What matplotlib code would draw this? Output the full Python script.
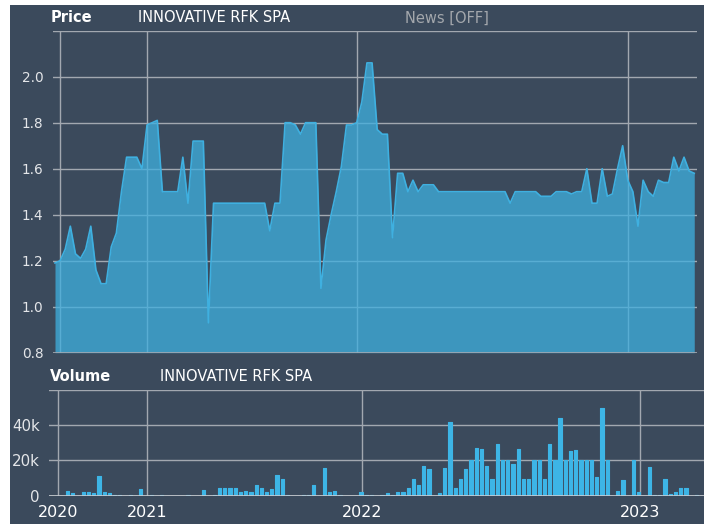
import numpy as np
import matplotlib
matplotlib.use("Agg")
import matplotlib.pyplot as plt
from matplotlib.patches import Rectangle
from matplotlib.ticker import FuncFormatter

# ---------------- data (ordinal axis: one entry per observation) ----------------
price = [
    1.19, 1.20, 1.25, 1.35, 1.23, 1.21, 1.25, 1.35, 1.16, 1.10,
    1.10, 1.26, 1.32, 1.50, 1.65, 1.65, 1.65, 1.60, 1.79, 1.80,
    1.81, 1.50, 1.50, 1.50, 1.50, 1.65, 1.45, 1.72, 1.72, 1.72,
    0.93, 1.45, 1.45, 1.45, 1.45, 1.45, 1.45, 1.45, 1.45, 1.45,
    1.45, 1.45, 1.33, 1.45, 1.45, 1.80, 1.80, 1.79, 1.75, 1.80,
    1.80, 1.80, 1.08, 1.29, 1.40, 1.50, 1.61, 1.79, 1.79, 1.80,
    1.89, 2.06, 2.06, 1.77, 1.75, 1.75, 1.30, 1.58, 1.58, 1.50,
    1.55, 1.50, 1.53, 1.53, 1.53, 1.50, 1.50, 1.50, 1.50, 1.50,
    1.50, 1.50, 1.50, 1.50, 1.50, 1.50, 1.50, 1.50, 1.50, 1.45,
    1.50, 1.50, 1.50, 1.50, 1.50, 1.48, 1.48, 1.48, 1.50, 1.50,
    1.50, 1.49, 1.50, 1.50, 1.60, 1.45, 1.45, 1.60, 1.48, 1.49,
    1.60, 1.70, 1.55, 1.50, 1.35, 1.55, 1.50, 1.48, 1.55, 1.54,
    1.54, 1.65, 1.59, 1.65, 1.59, 1.58,
]

volume = [
    0, 0, 2400, 1500, 0, 2300, 1900, 1700, 11300, 2300,
    1500, 400, 400, 0, 400, 0, 3800, 0, 300, 0,
    200, 0, 0, 0, 0, 300, 0, 0, 3000, 0,
    300, 4500, 4500, 4500, 4500, 2200, 2900, 2200, 5800, 4500,
    2200, 3900, 12000, 9300, 200, 0, 0, 200, 200, 5800,
    0, 15800, 2200, 2900, 400, 0, 0, 0, 2000, 400,
    400, 0, 300, 1500, 300, 2300, 2300, 4500, 9700, 5800,
    16800, 14900, 0, 1500, 15500, 42000, 4500, 9300, 14900, 20000,
    27300, 26700, 16800, 9700, 29500, 20000, 20000, 17800, 26700, 9700,
    9700, 20000, 20000, 9700, 29500, 20000, 44000, 20000, 25400, 25900,
    20000, 20000, 20000, 10500, 49500, 20000, 0, 2900, 8700, 0,
    20000, 2000, 0, 16300, 200, 200, 9300, 900, 2200, 4500,
    4500, 0, 200, 0, 0, 0,
]

year_labels = ["2020", "2021", "2022", "2023"]
year_start_idx = [1, 18, 59, 112]   # index of the first observation of each year

title_name = "INNOVATIVE RFK SPA"

# ---------------- style ----------------
W, H = 704, 524
BG = "#3b4a5c"
GRID = "#a2a8b0"
AREA = "#3fb0e0"
BAR = "#3db5e6"
TXT = "#ffffff"
TICK = "#e4e6e9"

idx = np.arange(len(price))

fig = plt.figure(figsize=(W / 100, H / 100), dpi=100)
fig.patch.set_facecolor("white")
fig.add_artist(Rectangle((10 / W, 0), 1 - 10 / W, 1 - 5 / H,
                         transform=fig.transFigure, facecolor=BG,
                         edgecolor="none", zorder=0))


def fx(px):
    return px / W


def fy(py):
    return (H - py) / H


# ---------------- price panel ----------------
pl, pr, pt, pb = 53, 697, 30.7, 352.7
axp = fig.add_axes([fx(pl), fy(pb), fx(pr - pl), (pb - pt) / H])
axp.set_facecolor("none")
for s in axp.spines.values():
    s.set_visible(False)

# ordinal x mapping: first point at x=55 px, 5.114 px per observation
step_p = 5.114
axp.set_xlim((pl - 55) / step_p, (pr - 55) / step_p)
axp.set_ylim(0.8, 2.2)

yt = np.round(np.arange(0.8, 2.21, 0.2), 1)
axp.set_yticks(yt)
axp.set_yticklabels([f"{v:.1f}" if v < 2.15 else "" for v in yt])
axp.set_xticks(year_start_idx)
axp.set_xticklabels([])
axp.tick_params(axis="both", length=0, colors=TICK, labelsize=9.8, pad=7)
axp.grid(True, color=GRID, linewidth=1.0, zorder=1)
axp.set_axisbelow(True)

axp.fill_between(idx, price, 0.8, color=AREA, alpha=0.75, linewidth=0, zorder=2)
axp.plot(idx, price, color=AREA, linewidth=1.2, zorder=3)
axp.axhline(0.8, color=GRID, linewidth=1.2, zorder=4)

fig.text(fx(51), fy(22.5), "Price", color=TXT, fontsize=10.5, fontweight="bold",
         ha="left", va="baseline")
fig.text(fx(138), fy(22.5), title_name, color=TXT, fontsize=10.5,
         ha="left", va="baseline")
fig.text(fx(405), fy(22.5), "News [OFF]", color="#a3a7ac", fontsize=10.5,
         ha="left", va="baseline")

# ---------------- volume panel ----------------
vl, vr, vt, vb = 49.3, 704, 390, 495.7
axv = fig.add_axes([fx(vl), fy(vb), fx(vr - vl), (vb - vt) / H])
axv.set_facecolor("none")
for s in axv.spines.values():
    s.set_visible(False)

step_v = 5.241
x0_v = 53.0
axv.set_xlim((vl - x0_v) / step_v, (vr - x0_v) / step_v)
axv.set_ylim(0, 60000)
axv.set_yticks([0, 20000, 40000, 60000])
axv.yaxis.set_major_formatter(FuncFormatter(
    lambda v, p: "" if v > 50000 else ("0" if v == 0 else f"{int(v / 1000)}k")))
axv.set_xticks(year_start_idx)
axv.set_xticklabels(year_labels)
axv.tick_params(axis="y", length=0, colors=TICK, labelsize=10.8, pad=7)
axv.tick_params(axis="x", length=0, colors=TXT, labelsize=11.5, pad=7)
axv.grid(True, color=GRID, linewidth=1.0, zorder=1)
axv.set_axisbelow(True)

bar_shift = 0.76
axv.bar(idx + bar_shift, volume, width=0.62, color=BAR, edgecolor=BAR,
        linewidth=0.8, joinstyle="round", zorder=2)
axv.axhline(0, color="#c9cdd2", linewidth=1.2, zorder=4)

fig.text(fx(50), fy(380.7), "Volume", color=TXT, fontsize=10.5, fontweight="bold",
         ha="left", va="baseline")
fig.text(fx(160), fy(380.7), title_name, color=TXT, fontsize=10.5,
         ha="left", va="baseline")

fig.savefig("out.png", dpi=100, facecolor=fig.get_facecolor())
